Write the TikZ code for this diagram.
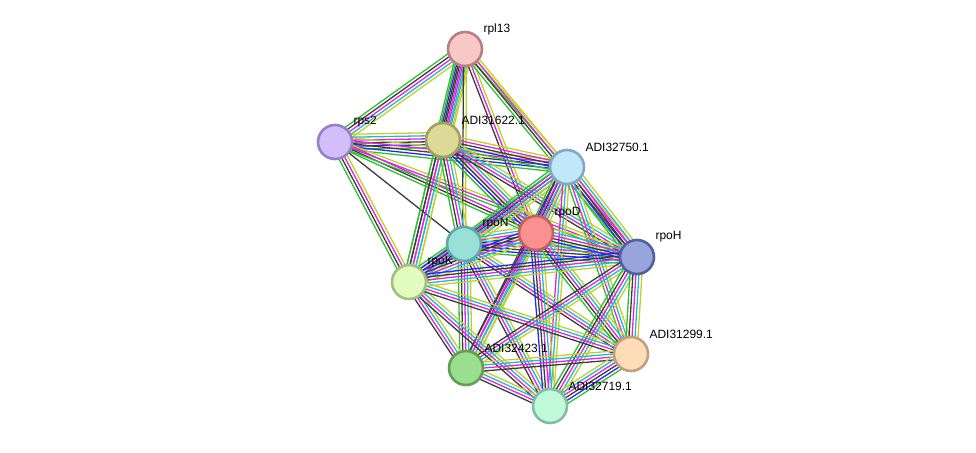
\documentclass[tikz,border=0pt]{standalone}
\usepackage{fontspec}
\setmainfont{Liberation Sans}
\usetikzlibrary{calc, backgrounds}

\definecolor{cnbh}{RGB}{50,190,50}
\definecolor{ccoc}{RGB}{40,40,240}
\definecolor{ccex}{RGB}{60,60,60}
\definecolor{cexper}{RGB}{220,40,220}
\definecolor{cdbs}{RGB}{40,180,220}
\definecolor{ctxt}{RGB}{190,210,40}

\tikzset{
    prot/.style = {
        circle, draw,
        minimum size=34pt,
        inner sep=0pt,
        line width=2.6pt
    },
    lbl/.style = {
        font=\fontsize{12}{14}\selectfont,
        anchor=west, inner sep=0pt,
        yshift=20pt
    },
    nbh/.style = {cnbh, line width=1.3pt},
    coc/.style = {ccoc, line width=1.3pt},
    cex/.style = {ccex, line width=1.3pt},
    exper/.style = {cexper, line width=1.3pt},
    dbs/.style = {cdbs, line width=1.3pt},
    txt/.style = {ctxt, line width=1.3pt}
}

% bundle of parallel evidence lines between two proteins
\newcommand{\edge}[3]{%
    \def\nlines{0}%
    \foreach \c in {#3}{\xdef\nlines{\the\numexpr\nlines+1\relax}}%
    \foreach \c [count=\i] in {#3}{%
        \pgfmathsetmacro{\off}{(\i-(\nlines+1)/2)*3}%
        \draw [\c] ($(#1.center)!\off pt!90:(#2.center)$) -- ($(#2.center)!\off pt!-90:(#1.center)$);
    }%
}

\begin{document}
\begin{tikzpicture}[x=1pt, y=-1pt]
\useasboundingbox (0,0) rectangle (976,452);

\node (rpl13) [prot, fill={rgb,255:red,248;green,200;blue,200}, draw={rgb,255:red,184;green,128;blue,128}, label={[lbl]0:rpl13}] at (465,49) {};
\node (rps2) [prot, fill={rgb,255:red,210;green,190;blue,250}, draw={rgb,255:red,150;green,128;blue,200}, label={[lbl]0:rps2}] at (335,142) {};
\node (adi622) [prot, fill={rgb,255:red,220;green,218;blue,150}, draw={rgb,255:red,160;green,160;blue,96}, label={[lbl]0:ADI31622.1}] at (443,140) {};
\node (adi750) [prot, fill={rgb,255:red,192;green,232;blue,250}, draw={rgb,255:red,128;green,168;blue,200}, label={[lbl]0:ADI32750.1}] at (567,167) {};
\node (rpoN) [prot, fill={rgb,255:red,152;green,224;blue,216}, draw={rgb,255:red,96;green,168;blue,160}, label={[lbl]0:rpoN}] at (464,244) {};
\node (rpoD) [prot, fill={rgb,255:red,250;green,144;blue,144}, draw={rgb,255:red,192;green,96;blue,96}, label={[lbl]0:rpoD}] at (536,233) {};
\node (rpoH) [prot, fill={rgb,255:red,152;green,164;blue,220}, draw={rgb,255:red,80;green,96;blue,160}, label={[lbl]0:rpoH}] at (637,257) {};
\node (rpoK) [prot, fill={rgb,255:red,226;green,252;blue,192}, draw={rgb,255:red,160;green,192;blue,128}, label={[lbl]0:rpoK}] at (409,282) {};
\node (adi299) [prot, fill={rgb,255:red,254;green,220;blue,184}, draw={rgb,255:red,192;green,160;blue,128}, label={[lbl]0:ADI31299.1}] at (631,354) {};
\node (adi423) [prot, fill={rgb,255:red,154;green,222;blue,144}, draw={rgb,255:red,96;green,160;blue,80}, label={[lbl]0:ADI32423.1}] at (466,368) {};
\node (adi719) [prot, fill={rgb,255:red,192;green,250;blue,216}, draw={rgb,255:red,128;green,192;blue,160}, label={[lbl]0:ADI32719.1}] at (550,406) {};

\begin{pgfonlayer}{background}
\edge{rpl13}{rps2}{nbh,cex,exper,dbs,txt}
\edge{rpl13}{adi622}{nbh,coc,cex,exper,dbs,txt}
\edge{rpl13}{rpoK}{nbh,cex,exper,dbs,txt}
\edge{rpl13}{rpoN}{cex,txt}
\edge{rpl13}{rpoD}{cex,exper,txt}
\edge{rpl13}{adi750}{nbh,txt}
\edge{rpl13}{rpoH}{nbh,cex,exper,txt}
\edge{rps2}{adi622}{nbh,coc,cex,exper,dbs,txt}
\edge{rps2}{adi750}{nbh,coc,cex,exper,txt}
\edge{rps2}{rpoN}{cex}
\edge{rps2}{rpoD}{nbh,cex,exper}
\edge{rps2}{rpoH}{nbh,exper,txt}
\edge{rps2}{rpoK}{nbh,cex,exper,txt}
\edge{adi622}{rpoK}{nbh,cex,exper,dbs,txt}
\edge{adi622}{rpoN}{nbh,cex,exper,dbs,txt}
\edge{adi622}{rpoD}{nbh,coc,cex,exper,dbs,txt}
\edge{adi622}{adi750}{nbh,coc,cex,exper,txt}
\edge{adi622}{rpoH}{cex,exper,dbs,txt}
\edge{adi750}{rpoN}{nbh,coc,cex,exper,dbs,txt}
\edge{adi750}{rpoD}{nbh,coc,cex,exper,dbs,txt}
\edge{adi750}{rpoH}{nbh,coc,cex,exper,dbs,txt}
\edge{adi750}{rpoK}{nbh,exper,dbs,txt}
\edge{adi750}{adi423}{cex,exper,dbs,txt}
\edge{adi750}{adi719}{exper,dbs,txt}
\edge{adi750}{adi299}{nbh,exper,dbs,txt}
\edge{rpoN}{rpoD}{nbh,coc,cex,exper,dbs,txt}
\edge{rpoN}{rpoK}{nbh,coc,cex,exper,dbs,txt}
\edge{rpoN}{rpoH}{nbh,coc,cex,exper,dbs,txt}
\edge{rpoN}{adi423}{nbh,cex,exper,dbs,txt}
\edge{rpoN}{adi719}{cex,exper,dbs,txt}
\edge{rpoN}{adi299}{cex,exper,dbs,txt}
\edge{rpoD}{rpoH}{nbh,coc,cex,exper,dbs,txt}
\edge{rpoD}{rpoK}{coc,cex,exper,dbs,txt}
\edge{rpoD}{adi423}{cex,exper,dbs,txt}
\edge{rpoD}{adi719}{coc,cex,exper,dbs,txt}
\edge{rpoD}{adi299}{nbh,cex,exper,dbs,txt}
\edge{rpoH}{rpoK}{coc,cex,exper,dbs,txt}
\edge{rpoH}{adi423}{cex,exper,dbs,txt}
\edge{rpoH}{adi719}{nbh,cex,exper,dbs,txt}
\edge{rpoH}{adi299}{nbh,cex,exper,dbs,txt}
\edge{rpoK}{adi423}{cex,exper,dbs,txt}
\edge{rpoK}{adi719}{cex,exper,dbs,txt}
\edge{rpoK}{adi299}{cex,exper,dbs,txt}
\edge{adi423}{adi719}{cex,exper,dbs,txt}
\edge{adi423}{adi299}{cex,exper,dbs,txt}
\edge{adi719}{adi299}{nbh,coc,cex,exper,dbs,txt}
\end{pgfonlayer}

\end{tikzpicture}
\end{document}
